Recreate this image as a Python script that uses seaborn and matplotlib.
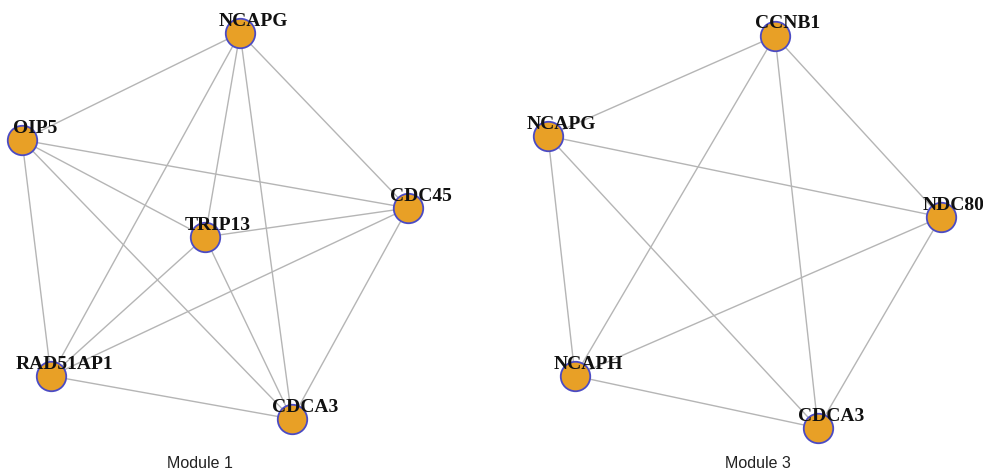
import matplotlib
matplotlib.use("Agg")
import matplotlib.pyplot as plt
import seaborn as sns
import pandas as pd

# Module 1 network: gene names and layout coordinates
m1_genes = ["NCAPG", "OIP5", "CDC45", "TRIP13", "RAD51AP1", "CDCA3"]
m1_x = [240, 22, 408, 205, 51, 292]
m1_y = [33, 140, 208, 237, 376, 419]
m1_edges = [
    ("NCAPG", "OIP5"), ("NCAPG", "CDC45"), ("NCAPG", "TRIP13"),
    ("NCAPG", "CDCA3"), ("NCAPG", "RAD51AP1"),
    ("OIP5", "CDC45"), ("OIP5", "TRIP13"), ("OIP5", "CDCA3"), ("OIP5", "RAD51AP1"),
    ("CDC45", "TRIP13"), ("CDC45", "RAD51AP1"), ("CDC45", "CDCA3"),
    ("TRIP13", "RAD51AP1"), ("TRIP13", "CDCA3"),
    ("RAD51AP1", "CDCA3"),
]

# Module 3 network
m3_genes = ["CCNB1", "NCAPG", "NDC80", "NCAPH", "CDCA3"]
m3_x = [775, 548, 941, 575, 818]
m3_y = [36, 136, 217, 376, 428]
m3_edges = [
    ("CCNB1", "NCAPG"), ("CCNB1", "NCAPH"), ("CCNB1", "CDCA3"), ("CCNB1", "NDC80"),
    ("NCAPG", "NDC80"), ("NCAPG", "NCAPH"), ("NCAPG", "CDCA3"),
    ("NDC80", "NCAPH"), ("NDC80", "CDCA3"),
    ("NCAPH", "CDCA3"),
]

module_titles = ["Module 1", "Module 3"]
title_x = [200, 758]
title_y = 463

sns.set_theme(style="white")
plt.rcParams["font.family"] = ["Liberation Sans", "DejaVu Sans"]

fig = plt.figure(figsize=(9.83, 4.73), dpi=100)
ax = fig.add_axes([0, 0, 1, 1])
ax.set_xlim(0, 983)
ax.set_ylim(473, 0)
ax.axis("off")

modules = [
    (m1_genes, m1_x, m1_y, m1_edges),
    (m3_genes, m3_x, m3_y, m3_edges),
]

for genes, xs, ys, edges in modules:
    nodes = pd.DataFrame({"gene": genes, "x": xs, "y": ys})
    pos = nodes.set_index("gene")
    # edges underneath the nodes
    for a, b in edges:
        ax.plot([pos.loc[a, "x"], pos.loc[b, "x"]],
                [pos.loc[a, "y"], pos.loc[b, "y"]],
                color="#b5b5b5", lw=1.0, zorder=1, solid_capstyle="butt")
    sns.scatterplot(data=nodes, x="x", y="y", ax=ax, s=450,
                    color="#e8a026", edgecolor="#4b4bc4", linewidth=1.3,
                    zorder=2, legend=False)
    for g, x, y in zip(genes, xs, ys):
        ax.text(x + 13, y - 12, g, ha="center", va="center",
                fontsize=14, fontweight="bold", family="Liberation Serif",
                color="#111111", zorder=3)

for t, x in zip(module_titles, title_x):
    ax.text(x, title_y, t, ha="center", va="center", fontsize=11.5,
            color="#222222", family="Liberation Sans")

fig.savefig("out.png", dpi=100)
